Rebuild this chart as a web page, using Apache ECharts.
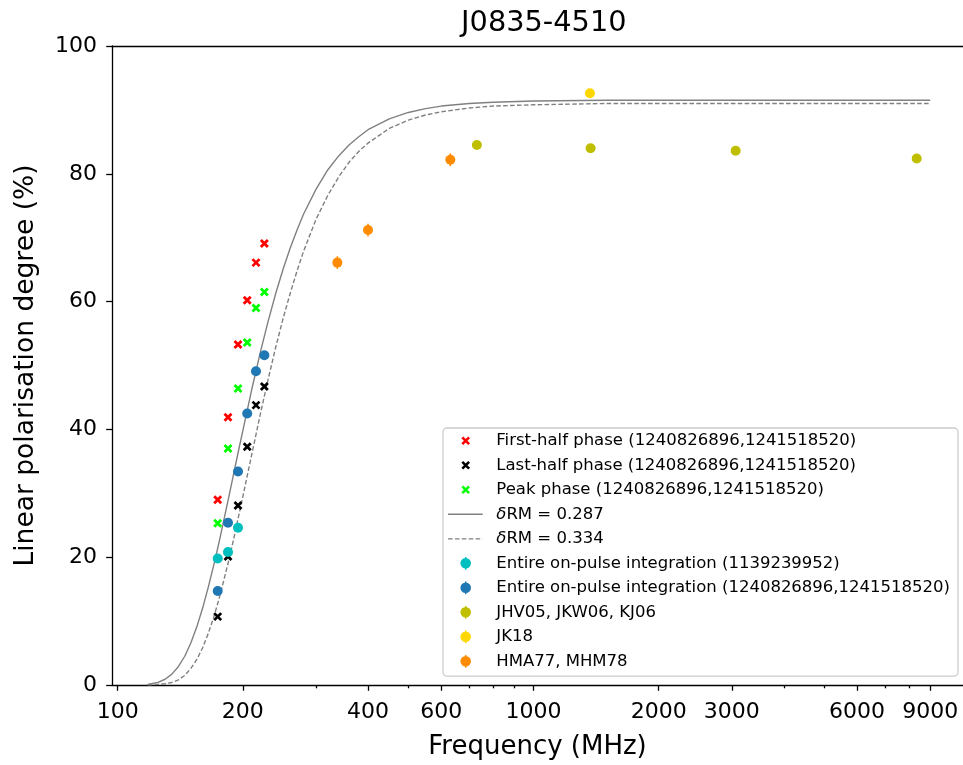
<!DOCTYPE html>
<html>
<head>
<meta charset="utf-8">
<script src="https://cdn.jsdelivr.net/npm/echarts@6/dist/echarts.min.js"></script>
<style>
  html, body { margin: 0; padding: 0; background: #fff; }
  #chart { width: 963px; height: 765px; }
</style>
</head>
<body>
<div id="chart"></div>
<script>
// MWA sub-band centre frequencies (MHz)
const mwaFreq = [174.0, 184.2, 194.7, 204.9, 215.1, 225.3];
// Linear polarisation degree (%) per pulse-phase window
const firstHalf = [29.0, 41.9, 53.3, 60.2, 66.1, 69.1];
const lastHalf  = [10.7, 20.1, 28.1, 37.3, 43.8, 46.7];
const peakPhase = [25.3, 37.0, 46.4, 53.6, 59.0, 61.5];
// Entire on-pulse integrations
const obs1139Freq = [174.0, 184.2, 194.7];
const obs1139Pol  = [19.8, 20.8, 24.6];
const obs1240Pol  = [14.7, 25.4, 33.4, 42.5, 49.1, 51.6];
// Published measurements
const jhvFreq = [731, 1372, 3064, 8350];
const jhvPol  = [84.5, 84.0, 83.6, 82.4];
const jk18Freq = [1367];
const jk18Pol  = [92.6];
const hmaFreq = [337.5, 400, 631];
const hmaPol  = [66.1, 71.2, 82.2];
const hmaErr  = [1.0, 1.0, 1.0];
// Depolarisation model curves
const curveFreq = [118, 125, 130, 135, 140, 145, 150, 155, 160, 165, 170, 175, 180, 185, 190, 195, 200,
  210, 220, 230, 240, 250, 260, 270, 280, 300, 320, 340, 360, 380, 400, 450, 500, 550, 600, 700, 800,
  1000, 1500, 2000, 3000, 5000, 9000];
const curve0287 = [0.1, 0.4, 0.9, 1.7, 2.9, 4.5, 6.6, 9.1, 12.0, 15.2, 18.6, 22.1, 25.8, 29.4, 33.0, 36.5, 39.8,
  46.2, 51.9, 56.9, 61.3, 65.1, 68.4, 71.2, 73.7, 77.6, 80.6, 82.8, 84.5, 85.8, 86.9, 88.6, 89.6, 90.2, 90.6, 91.0, 91.2,
  91.4, 91.5, 91.5, 91.5, 91.5, 91.5];
const curve0334 = [0.0, 0.1, 0.2, 0.4, 0.8, 1.5, 2.6, 4.0, 5.8, 8.0, 10.5, 13.3, 16.4, 19.5, 22.8, 26.2, 29.5,
  36.0, 42.2, 47.8, 52.9, 57.4, 61.3, 64.8, 67.9, 72.9, 76.6, 79.5, 81.8, 83.5, 84.8, 87.1, 88.4, 89.2, 89.7, 90.3, 90.6,
  90.8, 91.0, 91.0, 91.0, 91.0, 91.0];
// Axis ticks
const majorTicks = [100, 200, 400, 600, 1000, 2000, 3000, 6000, 9000];
const minorTicks = [300, 500, 700, 800, 900, 4000, 5000, 7000, 8000];

const FONT = 'DejaVu Sans';
const pair = (xs, ys) => xs.map((x, i) => [x, ys[i]]);

// x-shaped marker built from two crossing bars
function crossPath(cx, cy, h, w) {
  const a = w / Math.SQRT2;
  const p = [[-h + a, -h - a], [h + a, h - a], [h - a, h + a], [-h - a, -h + a]];
  const q = [[-h + a, h + a], [-h - a, h - a], [h - a, -h - a], [h + a, -h + a]];
  const poly = pts => 'M' + pts.map(t => (cx + t[0]).toFixed(3) + ' ' + (cy + t[1]).toFixed(3)).join(' L') + ' Z';
  return poly(p) + ' ' + poly(q);
}
// Legend icons share a fixed box so every glyph keeps its size and place
const IW = 43.3, IH = 14, ICX = 17.7, ICY = 7;
const boxCorners = 'M0 0 L0.01 0 L0 0.01 Z M' + IW + ' ' + IH + ' L' + (IW - 0.01) + ' ' + IH + ' L' + IW + ' ' + (IH - 0.01) + ' Z ';
const legendCross = 'path://' + boxCorners + crossPath(ICX, ICY, 3.4, 1.3);
function errDot(r, half) {
  return 'path://' + boxCorners +
    'M' + (ICX + r) + ' ' + ICY + ' A' + r + ' ' + r + ' 0 1 1 ' + (ICX - r) + ' ' + ICY +
    ' A' + r + ' ' + r + ' 0 1 1 ' + (ICX + r) + ' ' + ICY + ' Z ' +
    'M' + (ICX - 0.7) + ' ' + (ICY - half) + ' L' + (ICX + 0.7) + ' ' + (ICY - half) + ' L' + (ICX + 0.7) + ' ' + (ICY + half) +
    ' L' + (ICX - 0.7) + ' ' + (ICY + half) + ' Z';
}
const legendDot = errDot(5.3, 6.4);
const legendSolid = 'path://' + boxCorners + 'M0 6.3 L34.7 6.3 L34.7 7.7 L0 7.7 Z';
let dashes = '';
for (let s = 0; s < 34.7; s += 6.9) {
  const e = Math.min(s + 4.6, 34.7);
  dashes += 'M' + s + ' 6.4 L' + e + ' 6.4 L' + e + ' 7.6 L' + s + ' 7.6 Z ';
}
const legendDashed = 'path://' + boxCorners + dashes;
const plotCross = 'path://' + crossPath(0, 0, 3.5, 1.4);
const plotCrossSize = 2 * (3.5 + 1.4 / Math.SQRT2);

const names = {
  first: 'First-half phase (1240826896,1241518520)',
  last: 'Last-half phase (1240826896,1241518520)',
  peak: 'Peak phase (1240826896,1241518520)',
  rm1: 'δRM = 0.287',
  rm2: 'δRM = 0.334',
  obs1139: 'Entire on-pulse integration (1139239952)',
  obs1240: 'Entire on-pulse integration (1240826896,1241518520)',
  jhv: 'JHV05, JKW06, KJ06',
  jk18: 'JK18',
  hma: 'HMA77, MHM78'
};
const colors = {
  first: '#ff0000', last: '#000000', peak: '#00ff00', curve: '#808080',
  obs1139: '#00bfbf', obs1240: '#1f77b4', jhv: '#bfbf00', jk18: '#ffd700', hma: '#ff8c00'
};

const spine = { show: true, lineStyle: { color: '#000', width: 1.3 } };
const xCommon = {
  type: 'log', logBase: 10, min: 96.9, max: 10790, gridIndex: 0, position: 'bottom',
  axisLine: { show: false }, splitLine: { show: false }, minorTick: { show: false }
};

const chart = echarts.init(document.getElementById('chart'), null, { renderer: 'canvas' });
chart.setOption({
  animation: false,
  backgroundColor: '#ffffff',
  textStyle: { fontFamily: FONT },
  title: {
    text: 'J0835-4510', left: 538.8, top: 4, textAlign: 'center',
    textStyle: { fontFamily: FONT, fontSize: 28.8, fontWeight: 'normal', color: '#000' }
  },
  grid: { left: 112, top: 46, right: 0, bottom: 79, show: false, containLabel: false },
  legend: {
    orient: 'vertical', left: 443, top: 428,
    padding: [4.3, 8, 6.3, 5],
    itemWidth: IW, itemHeight: IH, itemGap: 7.5,
    backgroundColor: 'rgba(255,255,255,0.8)', borderColor: '#cccccc', borderWidth: 1.3, borderRadius: 4,
    selectedMode: false,
    textStyle: {
      fontFamily: FONT, fontSize: 16.5, color: '#000', lineHeight: 16,
      rich: { i: { fontFamily: FONT, fontSize: 16.5, fontStyle: 'italic', color: '#000', lineHeight: 16 } }
    },
    formatter: n => n.indexOf('δ') === 0 ? '{i|δ}' + n.slice(1) : n,
    data: [
      { name: names.first, icon: legendCross, itemStyle: { color: colors.first, borderWidth: 0 } },
      { name: names.last, icon: legendCross, itemStyle: { color: colors.last, borderWidth: 0 } },
      { name: names.peak, icon: legendCross, itemStyle: { color: colors.peak, borderWidth: 0 } },
      { name: names.rm1, icon: legendSolid, itemStyle: { color: colors.curve, borderWidth: 0 } },
      { name: names.rm2, icon: legendDashed, itemStyle: { color: colors.curve, borderWidth: 0 } },
      { name: names.obs1139, icon: legendDot, itemStyle: { color: colors.obs1139, borderWidth: 0 } },
      { name: names.obs1240, icon: legendDot, itemStyle: { color: colors.obs1240, borderWidth: 0 } },
      { name: names.jhv, icon: legendDot, itemStyle: { color: colors.jhv, borderWidth: 0 } },
      { name: names.jk18, icon: legendDot, itemStyle: { color: colors.jk18, borderWidth: 0 } },
      { name: names.hma, icon: legendDot, itemStyle: { color: colors.hma, borderWidth: 0 } }
    ]
  },
  xAxis: [
    Object.assign({}, xCommon, {
      name: 'Frequency (MHz)', nameLocation: 'middle', nameGap: 49,
      nameTextStyle: { fontFamily: FONT, fontSize: 26, color: '#000' },
      axisLine: spine,
      axisTick: { show: true, inside: false, length: 5.8, lineStyle: { color: '#000', width: 1.3 }, customValues: majorTicks },
      axisLabel: {
        show: true, customValues: majorTicks, margin: 16, fontFamily: FONT, fontSize: 22, color: '#000',
        formatter: v => String(Math.round(v))
      }
    }),
    Object.assign({}, xCommon, {
      axisTick: { show: true, inside: false, length: 3.3, lineStyle: { color: '#000', width: 1.3 }, customValues: minorTicks },
      axisLabel: { show: false }
    }),
    // top spine
    Object.assign({}, xCommon, {
      position: 'top', axisLine: spine, axisTick: { show: false }, axisLabel: { show: false }
    })
  ],
  yAxis: {
    type: 'value', min: 0, max: 100, interval: 20,
    name: 'Linear polarisation degree (%)', nameLocation: 'middle', nameGap: 72, nameRotate: 90,
    nameTextStyle: { fontFamily: FONT, fontSize: 26.5, color: '#000' },
    axisLine: spine,
    axisTick: { show: true, inside: false, length: 5.8, lineStyle: { color: '#000', width: 1.3 } },
    axisLabel: { margin: 15, fontFamily: FONT, fontSize: 22, color: '#000' },
    splitLine: { show: false }
  },
  series: [
    {
      name: names.rm1, type: 'line', xAxisIndex: 0, symbol: 'none', z: 1,
      lineStyle: { color: colors.curve, width: 1.4 }, data: pair(curveFreq, curve0287)
    },
    {
      name: names.rm2, type: 'line', xAxisIndex: 0, symbol: 'none', z: 1,
      lineStyle: { color: colors.curve, width: 1.4, type: [4.6, 2.3] }, data: pair(curveFreq, curve0334)
    },
    {
      name: names.first, type: 'scatter', xAxisIndex: 0, symbol: plotCross, symbolSize: plotCrossSize, z: 3,
      itemStyle: { color: colors.first, opacity: 1 }, data: pair(mwaFreq, firstHalf)
    },
    {
      name: names.last, type: 'scatter', xAxisIndex: 0, symbol: plotCross, symbolSize: plotCrossSize, z: 3,
      itemStyle: { color: colors.last, opacity: 1 }, data: pair(mwaFreq, lastHalf)
    },
    {
      name: names.peak, type: 'scatter', xAxisIndex: 0, symbol: plotCross, symbolSize: plotCrossSize, z: 3,
      itemStyle: { color: colors.peak, opacity: 1 }, data: pair(mwaFreq, peakPhase)
    },
    {
      name: names.obs1139, type: 'scatter', xAxisIndex: 0, symbol: 'circle', symbolSize: 10, z: 3,
      itemStyle: { color: colors.obs1139, opacity: 1 }, data: pair(obs1139Freq, obs1139Pol)
    },
    {
      name: names.obs1240, type: 'scatter', xAxisIndex: 0, symbol: 'circle', symbolSize: 10, z: 3,
      itemStyle: { color: colors.obs1240, opacity: 1 }, data: pair(mwaFreq, obs1240Pol)
    },
    {
      name: names.jhv, type: 'scatter', xAxisIndex: 0, symbol: 'circle', symbolSize: 10, z: 3,
      itemStyle: { color: colors.jhv, opacity: 1 }, data: pair(jhvFreq, jhvPol)
    },
    {
      name: names.jk18, type: 'scatter', xAxisIndex: 0, symbol: 'circle', symbolSize: 10, z: 3,
      itemStyle: { color: colors.jk18, opacity: 1 }, data: pair(jk18Freq, jk18Pol)
    },
    {
      type: 'custom', xAxisIndex: 0, z: 3, silent: true,
      data: hmaFreq.map((f, i) => [f, hmaPol[i], hmaErr[i]]),
      renderItem: (params, api) => {
        const f = api.value(0), v = api.value(1), e = api.value(2);
        const lo = api.coord([f, v - e]), hi = api.coord([f, v + e]);
        return {
          type: 'line',
          shape: { x1: lo[0], y1: lo[1], x2: hi[0], y2: hi[1] },
          style: { stroke: colors.hma, lineWidth: 1.5 }
        };
      }
    },
    {
      name: names.hma, type: 'scatter', xAxisIndex: 0, symbol: 'circle', symbolSize: 10, z: 3,
      itemStyle: { color: colors.hma, opacity: 1 }, data: pair(hmaFreq, hmaPol)
    }
  ]
});
</script>
</body>
</html>
